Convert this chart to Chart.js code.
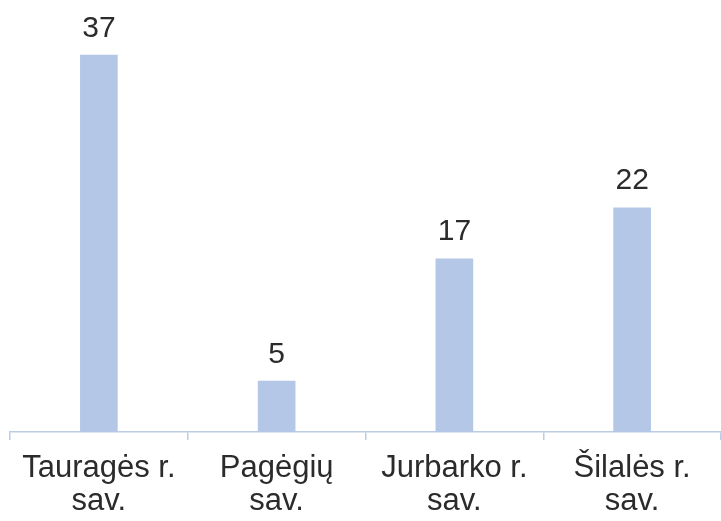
<!DOCTYPE html>
<html><head><meta charset="utf-8">
<script src="https://cdn.jsdelivr.net/npm/chart.js@4"></script>
<style>html,body{margin:0;padding:0;background:#fff;overflow:hidden}#w{width:721px;height:521px}</style>
</head><body><div id="w"><canvas id="c"></canvas></div>
<script>
const categories = [["Tauragės r.","sav."],["Pagėgių","sav."],["Jurbarko r.","sav."],["Šilalės r.","sav."]];
const values = [37, 5, 17, 22];
const barColor = "#b4c7e7";
const FONT = "'Liberation Sans', Arial, sans-serif";

const labelPlugin = {
  id: "valLabels",
  afterDatasetsDraw(chart) {
    const ctx = chart.ctx;
    const meta = chart.getDatasetMeta(0);
    ctx.save();
    ctx.font = "30px " + FONT;
    ctx.fillStyle = "#2b2b2b";
    ctx.textAlign = "center";
    ctx.textBaseline = "alphabetic";
    meta.data.forEach((el, i) => {
      ctx.fillText(String(values[i]), el.x, el.y - 18.5);
    });
    ctx.restore();
  }
};

new Chart(document.getElementById("c"), {
  type: "bar",
  data: { labels: categories, datasets: [{ data: values, backgroundColor: barColor, barThickness: 37 }] },
  options: {
    responsive: true, maintainAspectRatio: false, animation: false,
    layout: { padding: { left: 10, right: 0, top: 0, bottom: 0 } },
    plugins: { legend: { display: false }, tooltip: { enabled: false } },
    scales: {
      y: { display: false, min: 0, max: 42.4 },
      x: {
        afterFit(scale) { scale.height = 89; },
        grid: { offset: true, drawOnChartArea: false, drawTicks: true, tickLength: 8, color: "#bccbe6", lineWidth: 1.5 },
        border: { display: true, color: "#bccbe6", width: 1.5 },
        ticks: { color: "#2b2b2b", font: { size: 31, family: FONT, lineHeight: 1.08 }, padding: 11.5, maxRotation: 0, autoSkip: false }
      }
    }
  },
  plugins: [labelPlugin]
});
</script>
</body></html>
